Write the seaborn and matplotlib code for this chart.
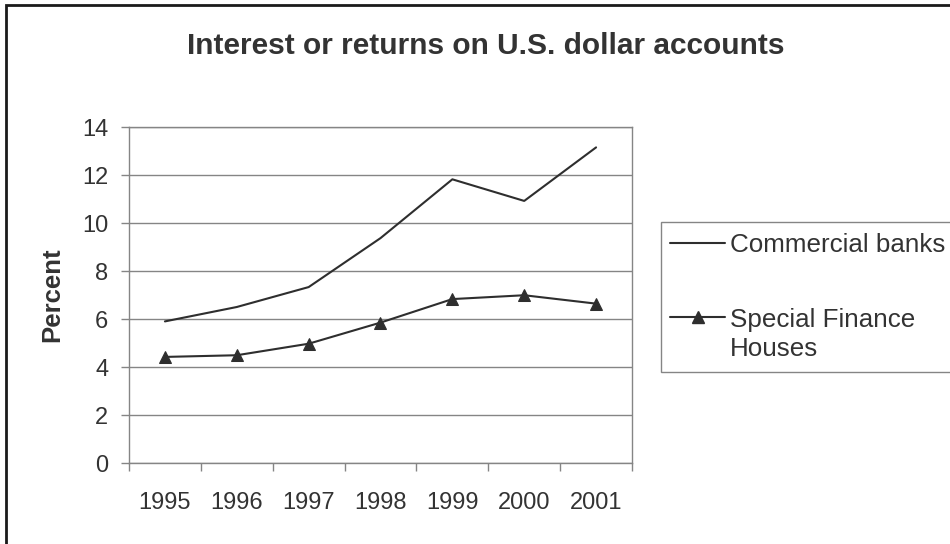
import numpy as np
import pandas as pd
import matplotlib
matplotlib.use("Agg")
import matplotlib.pyplot as plt
import seaborn as sns
from matplotlib.lines import Line2D
from matplotlib.patches import Rectangle

# ---- data ----
years = ["1995", "1996", "1997", "1998", "1999", "2000", "2001"]
commercial_banks = [5.9, 6.5, 7.33, 9.37, 11.82, 10.92, 13.15]
special_finance = [4.42, 4.49, 4.97, 5.85, 6.83, 6.99, 6.64]
series_names = ["Commercial banks", "Special Finance\nHouses"]
title = "Interest or returns on U.S. dollar accounts"
y_label = "Percent"
y_ticks = [0, 2, 4, 6, 8, 10, 12, 14]

sns.set_style("white")
plt.rcParams['font.family'] = ['Liberation Sans', 'DejaVu Sans']

W, H = 950, 544
fig = plt.figure(figsize=(9.5, 5.44), dpi=100)
fig.patch.set_facecolor("white")


def fx(x):
    return x / W


def fy(y):
    return 1 - y / H


text_color = "#333333"
line_color = "#2e2e2e"
grid_color = "#858585"

L, R, T, B = 129, 632, 127, 463
ax = fig.add_axes([fx(L), fy(B), (R - L) / W, (B - T) / H])

df = pd.DataFrame({"pos": np.arange(len(years)),
                   "cb": commercial_banks,
                   "sf": special_finance})

sns.lineplot(data=df, x="pos", y="cb", ax=ax, color=line_color, lw=1.5,
             legend=False)
sns.lineplot(data=df, x="pos", y="sf", ax=ax, color=line_color, lw=1.5,
             marker="^", markersize=9, markeredgecolor=line_color,
             markerfacecolor=line_color, legend=False)

ax.set_xlim(-0.5, len(years) - 0.5)
ax.set_ylim(0, 14)
ax.set_yticks(y_ticks)
ax.set_xticks(np.arange(len(years)))
ax.set_xticklabels(years)
ax.set_xticks(np.arange(len(years) + 1) - 0.5, minor=True)
ax.tick_params(axis='x', which='major', length=0, pad=21, labelsize=17,
               labelcolor=text_color, bottom=True)
ax.tick_params(axis='x', which='minor', length=6, width=1, color=grid_color,
               direction='out', bottom=True)
ax.tick_params(axis='y', length=6, width=1, color=grid_color, pad=9,
               labelsize=17, labelcolor=text_color, left=True, direction='out')
ax.yaxis.grid(True, color=grid_color, lw=1)
ax.xaxis.grid(False)
ax.set_axisbelow(True)
for s in ax.spines.values():
    s.set_visible(True)
    s.set_color(grid_color)
    s.set_linewidth(1)
ax.set_xlabel("")
ax.set_ylabel(y_label, fontsize=18.5, fontweight='bold', color=text_color)
ax.yaxis.set_label_coords((52 - L) / (R - L), 0.5)
ax.yaxis.label.set_verticalalignment('center')

# title
fig.text(fx(486), fy(46), title, ha='center', va='center', fontsize=21.5,
         fontweight='bold', color=text_color)

# legend (Excel style: handle aligned with first line of label)
fig.add_artist(Rectangle((fx(661), fy(372)), fx(400), (372 - 222) / H,
                         transform=fig.transFigure, facecolor='white',
                         edgecolor=grid_color, lw=1))
fig.add_artist(Line2D([fx(670), fx(725)], [fy(243)] * 2, color=line_color,
                      lw=1.5, transform=fig.transFigure))
fig.text(fx(730), fy(252), series_names[0], ha='left', va='baseline',
         fontsize=18.7, color=text_color)
fig.add_artist(Line2D([fx(670), fx(725)], [fy(317)] * 2, color=line_color,
                      lw=1.5, transform=fig.transFigure))
fig.add_artist(Line2D([fx(697.5)], [fy(317)], marker='^', markersize=9,
                      color=line_color, transform=fig.transFigure))
fig.text(fx(730), fy(356), series_names[1], ha='left', va='baseline',
         fontsize=18.7, color=text_color, linespacing=1.25)

# outer chart border (partly outside the image)
fig.add_artist(Rectangle((fx(6), fy(700)), 2, fy(5) - fy(700),
                         transform=fig.transFigure, fill=False,
                         edgecolor='#1a1a1a', lw=2.0))

fig.savefig("out.png", dpi=100, facecolor="white")
